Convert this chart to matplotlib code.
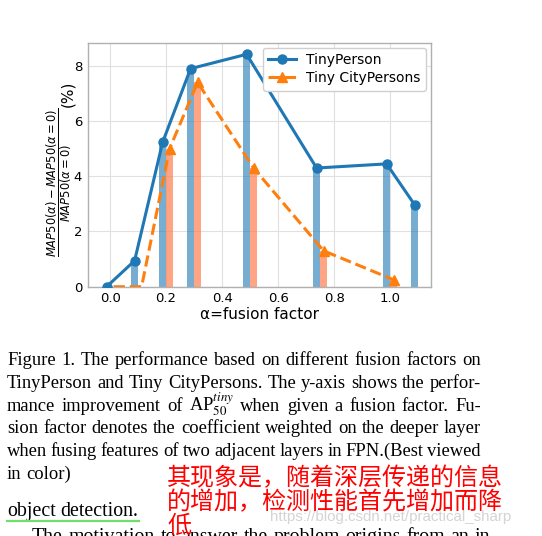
import matplotlib
matplotlib.use('Agg')
import matplotlib.pyplot as plt
from matplotlib.lines import Line2D

# data
alpha_person = [0.0, 0.1, 0.2, 0.3, 0.5, 0.75, 1.0, 1.1]
tinyperson = [0.0, 0.94, 5.23, 7.9, 8.42, 4.3, 4.45, 2.97]
alpha_city = [0.0, 0.1, 0.2, 0.3, 0.5, 0.75, 1.0]
tinycity = [0.0, 0.0, 5.0, 7.4, 4.3, 1.3, 0.25]
xticks = [0.0, 0.2, 0.4, 0.6, 0.8, 1.0]
yticks = [0, 2, 4, 6, 8]

caption_lines = [
    "Figure 1. The performance based on different fusion factors on",
    "TinyPerson and Tiny CityPersons. The y-axis shows the perfor-",
    "mance improvement of AP$^{tiny}_{50}$ when given a fusion factor. Fu-",
    "sion factor denotes the coefficient weighted on the deeper layer",
    "when fusing features of two adjacent layers in FPN.(Best viewed",
    "in color)",
]
body_before = "object detection."
body_after = "The motivation to answer the problem origins from an in-"
note_lines = ["其现象是，随着深层传递的信息", "的增加，检测性能首先增加而降", "低"]
watermark = "https://blog.csdn.net/practical_sharp"

W, H = 542, 536
fig = plt.figure(figsize=(W / 100, H / 100), dpi=100)
fig.patch.set_facecolor('white')


def fx(x):
    return x / W


def fy(y):
    return 1 - y / H


# ---- chart ----
ax = fig.add_axes([fx(87.7), fy(286.7), 343 / W, 244 / H])
off = 0.0125
bw = 0.025
ax.bar([a - off for a in alpha_person], tinyperson, width=bw, color='#1f77b4', alpha=0.6, zorder=2)
ax.bar([a + off for a in alpha_city], tinycity, width=bw, color='#ff7f50', alpha=0.7, zorder=2)
ax.plot([a - off for a in alpha_person], tinyperson, '-o', color='#1f77b4', lw=2.2, ms=6.5,
        label='TinyPerson', zorder=3)
# the first two triangles sit under the x axis in the original
ax.plot([a + off for a in alpha_city], tinycity, '--^', color='#ff7f0e', lw=2.2, ms=7.5,
        markevery=list(range(2, len(tinycity))), label='Tiny CityPersons', zorder=3)

ax.set_xlim(-0.08, 1.145)
ax.set_ylim(0, 8.84)
ax.set_xticks(xticks)
ax.set_yticks(yticks)
ax.tick_params(length=0, pad=4, labelsize=9.5)
ax.grid(True, color='#e0e0e0', lw=0.8, zorder=0)
ax.set_axisbelow(True)
for s in ax.spines.values():
    s.set_color('#b0b0b0')
    s.set_linewidth(1.0)
ax.set_xlabel('α=fusion factor', fontsize=11, labelpad=1)
leg = ax.legend(loc='upper right', fontsize=10, borderaxespad=0.35, framealpha=1,
                edgecolor='#d0d0d0', labelspacing=0.3, handlelength=2.0, handletextpad=0.7)

# y label: fraction and the (%) are different sizes in the original
fig.text(fx(59), fy(182.5), r'$\dfrac{MAP50(\alpha)-MAP50(\alpha=0)}{MAP50(\alpha=0)}$',
         fontsize=8.3, rotation=90, ha='center', va='center')
fig.text(fx(68), fy(93.5), '(%)', fontsize=11, rotation=90, ha='center', va='center')

# ---- text below ----
renderer = fig.canvas.get_renderer()


def justify(line, x0, x1, y, size, last=False, zorder=1):
    words = line.split(' ')
    texts = [fig.text(0, fy(y), w, fontsize=size, family='Liberation Serif', va='baseline',
                      math_fontfamily='stix', zorder=zorder) for w in words]
    widths = [t.get_window_extent(renderer).width for t in texts]
    if last or len(words) == 1:
        gap = size * 0.25 * 100 / 72
    else:
        gap = ((x1 - x0) - sum(widths)) / (len(words) - 1)
    x = x0
    for t, w in zip(texts, widths):
        t.set_x(fx(x))
        x += w + gap


cap_size = 13.3
for i, line in enumerate(caption_lines):
    justify(line, 7, 481, 365 + i * 22.8, cap_size, last=(i == len(caption_lines) - 1))

justify(body_before, 7, 138, 516, 14.3, last=True)
fig.add_artist(Line2D([fx(7), fx(139)], [fy(520.8), fy(520.8)], color='#6ee06a', lw=1.6))
justify(body_after, 32, 497, 542, 14.3)

fig.text(fx(270), fy(517), watermark, fontsize=10.9, family='Liberation Sans', color='#d4d4d4',
         va='center', zorder=4)

for i, line in enumerate(note_lines):
    fig.text(fx(167), fy(478 + i * 24), line, fontsize=17.3, family='Noto Sans CJK SC',
             fontweight='light', color='red', va='center', zorder=5)

fig.savefig('out.png', dpi=100)
